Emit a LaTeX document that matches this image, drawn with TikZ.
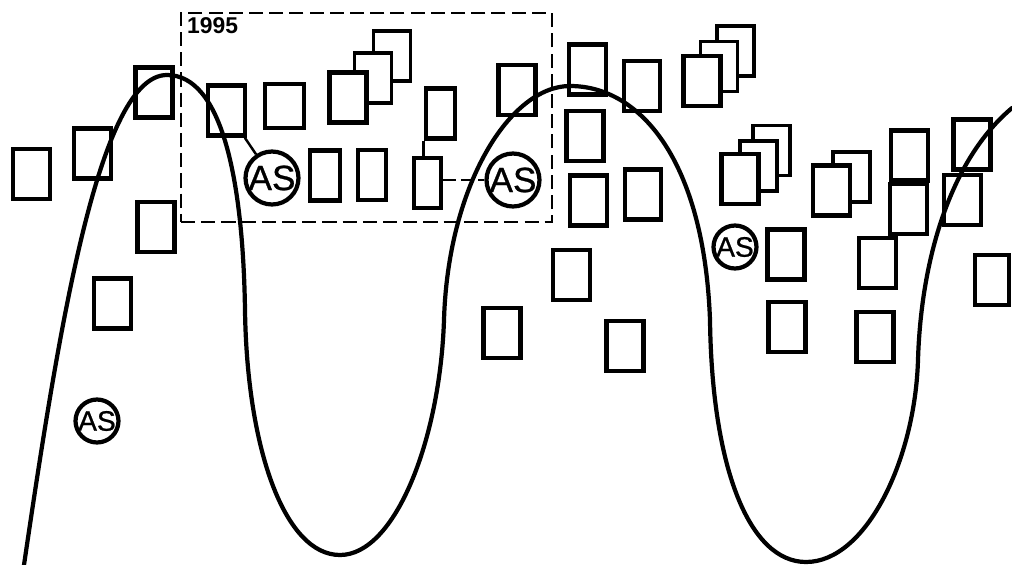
\documentclass[tikz,border=0pt]{standalone}
\usepackage{fontspec}
\setsansfont{Liberation Sans}
\newfontfamily\asfont[FakeBold=0.8]{Liberation Sans}
\usepackage{tikz}
\usetikzlibrary{positioning, calc}

\begin{document}
\begin{tikzpicture}[
  x=0.02cm, y=-0.02cm,
  font=\sffamily,
  box/.style={rectangle, draw=black, line width=2.6pt, fill=white,
              minimum width=0.74cm, minimum height=1cm, inner sep=0pt},
  backbox/.style={box, line width=1.8pt},
  as/.style={circle, draw=black, line width=2.4pt, fill=white, inner sep=0pt,
             minimum size=1.06cm, font=\asfont\fontsize{20}{20}\selectfont},
  assmall/.style={as, minimum size=0.86cm, font=\asfont\fontsize{16}{16}\selectfont},
  period/.style={rectangle, draw=black, line width=1.4pt, dash pattern=on 8pt off 3.5pt,
                 minimum width=7.42cm, minimum height=4.18cm, inner sep=0pt},
  link/.style={line width=1.4pt},
  wave/.style={line width=2.4pt, line join=round, line cap=round}
]
  \useasboundingbox (0,0) rectangle (1012,565);

  % dashed frame with year
  \node[period] (frame) at (366.5,117.5) {};
  \node[anchor=north west, inner sep=0pt, font=\sffamily\bfseries\fontsize{13}{13}\selectfont]
    (yr) at ($(frame.north west)+(7,5)$) {1995};

  % left group
  \node[box] (b1) at (31.5,174) {};
  \node[box] (b2) at (92.5,153.5) {};
  \node[box] (b3) at (154,92.5) {};
  \node[box] (b4) at (156,227) {};
  \node[box] (b5) at (112.5,303.5) {};

  % inside the frame
  \node[box] (b6) at (226.5,110.5) {};
  \node[box, minimum width=0.78cm, minimum height=0.88cm] (b7) at (284.5,106) {};
  \node[backbox] (s1c) at (392,56) {};
  \node[backbox] (s1b) at (373,78) {};
  \node[box] (s1a) at (348,97.5) {};
  \node[box, minimum width=0.6cm] (b8) at (325,175.5) {};
  \node[box, minimum width=0.56cm] (b9) at (372,175) {};
  \node[box, minimum width=0.58cm] (b10) at (440.5,113.5) {};
  \node[box, minimum width=0.54cm] (b11) at (427.5,183) {};
  \node[box] (b12) at (517,90) {};

  % middle group
  \node[box] (b13) at (587.5,69.5) {};
  \node[box, minimum width=0.72cm] (b14) at (642,86) {};
  \node[box] (b15) at (585,136) {};
  \node[box] (b16) at (588.5,200.5) {};
  \node[box, minimum width=0.72cm] (b17) at (643,194.5) {};
  \node[box] (b18) at (571.5,275) {};
  \node[box] (b19) at (502,333) {};
  \node[box] (b20) at (625,346) {};

  % stacks on the right
  \node[backbox] (s2c) at (735.5,51) {};
  \node[backbox] (s2b) at (719,66.5) {};
  \node[box] (s2a) at (702,81) {};
  \node[backbox] (s3c) at (771.5,150.5) {};
  \node[backbox] (s3b) at (758.5,166) {};
  \node[box] (s3a) at (740,179) {};
  \node[backbox] (s4b) at (851.5,177) {};
  \node[box] (s4a) at (831.5,190.5) {};

  % right group
  \node[box] (b21) at (909.5,155.5) {};
  \node[box] (b22) at (908.5,209) {};
  \node[box] (b23) at (972,144.5) {};
  \node[box] (b24) at (962.5,200) {};
  \node[box] (b25) at (877.5,263) {};
  \node[box, minimum width=0.68cm] (b26) at (992,280) {};
  \node[box] (b27) at (786,254.5) {};
  \node[box] (b28) at (787,327) {};
  \node[box] (b29) at (875,337) {};

  % AS markers
  \node[as] (as1) at (272,178) {AS};
  \node[as] (as2) at (513,180) {AS};
  \node[assmall] (as3) at (735,247) {AS};
  \node[assmall] (as4) at (97,421) {AS};

  % links
  \draw[link] (b6) -- (as1);
  \draw[link] (b10.south west) -- (b10.south west |- b11.north);
  \draw[link, dash pattern=on 7pt off 3pt] (b11.east |- as2) -- (as2);

  % long wave
  \draw[wave] (24,565) .. controls (60,320) and (100,75) .. (167,75)
    .. controls (222,75) and (243,180) .. (245,310)
    .. controls (247,450) and (285,555) .. (340,555)
    .. controls (395,555) and (440,440) .. (444,320)
    .. controls (448,185) and (510,86) .. (570,86)
    .. controls (640,86) and (704,160) .. (710,320)
    .. controls (712,470) and (750,562) .. (806,562)
    .. controls (866,562) and (915,460) .. (918,360)
    .. controls (921,260) and (950,160) .. (1012,108);
\end{tikzpicture}
\end{document}
